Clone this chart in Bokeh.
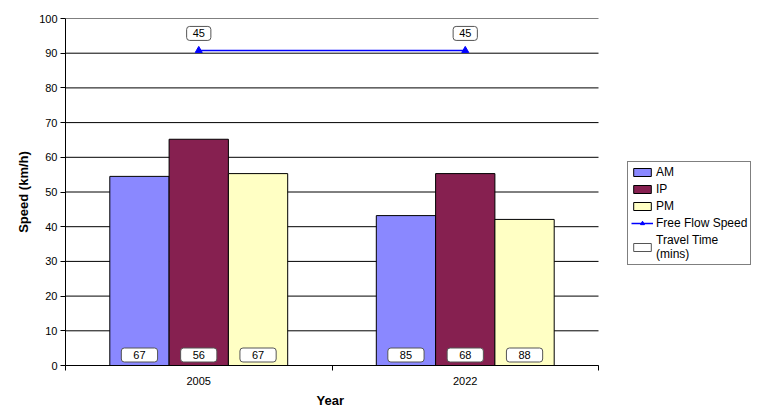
from bokeh.plotting import figure
from bokeh.models import (Range1d, FixedTicker, Legend, LegendItem, ColumnDataSource, Label, Title)
from bokeh.transform import dodge
from bokeh.core.properties import value
from bokeh.embed import file_html
from bokeh.resources import INLINE

years = ["2005", "2022"]
xpos = [0.5, 1.5]
am = [54.5, 43.2]
ip = [65.2, 55.3]
pm = [55.3, 42.1]
ffs = [90.8, 90.8]
am_tt = ["67", "85"]
ip_tt = ["56", "68"]
pm_tt = ["67", "88"]
ffs_tt = ["45", "45"]
yticks = list(range(0, 101, 10))

FONT = "Liberation Sans"
BW = 0.2225

# layout: data area 533 px for 2 categories, frame extends to hold the legend
FRAME_W = 695
FRAME_H = 347
XMAX = 2 * FRAME_W / 533.0

src = ColumnDataSource(dict(x=xpos, am=am, ip=ip, pm=pm, ffs=ffs,
                            am_tt=am_tt, ip_tt=ip_tt, pm_tt=pm_tt, ffs_tt=ffs_tt,
                            zero=[0, 0]))

p = figure(frame_width=FRAME_W, frame_height=FRAME_H, width=760, height=410,
           x_range=Range1d(0, XMAX), y_range=Range1d(0, 100),
           output_backend="svg", toolbar_location=None,
           min_border_left=65, min_border_top=18, min_border_bottom=45, min_border_right=0)
p.outline_line_color = None
p.background_fill_color = "white"
p.xgrid.grid_line_color = None
p.ygrid.grid_line_color = None
p.segment(x0=0, x1=2, y0=yticks, y1=yticks, line_color="black", line_width=1)
p.yaxis.ticker = FixedTicker(ticks=yticks)
p.xaxis.ticker = FixedTicker(ticks=xpos, minor_ticks=[0, 1, 2])
p.xaxis.bounds = (0, 2)
p.xaxis.major_label_overrides = {0.5: years[0], 1.5: years[1]}
p.xaxis.major_tick_line_color = None
p.xaxis.minor_tick_line_color = "black"
p.xaxis.minor_tick_out = 5
p.xaxis.minor_tick_in = 0
p.yaxis.minor_tick_line_color = None
p.yaxis.major_tick_out = 5
p.yaxis.major_tick_in = 0
for ax in (p.xaxis, p.yaxis):
    ax.axis_line_color = "black"
    ax.major_label_text_font = FONT
    ax.major_label_text_font_size = "11px"
    ax.major_label_text_color = "black"
    ax.axis_label_text_font = FONT
    ax.axis_label_text_font_style = "bold"
    ax.axis_label_text_font_size = "13px"
    ax.axis_label_text_color = "black"
p.yaxis.axis_label = "Speed (km/h)"
p.xaxis.major_label_standoff = 5
p.yaxis.major_label_standoff = 3
p.yaxis.axis_label_standoff = 5

# x title centred under the two categories (frame extends further right for the legend)
xtitle = Title(text="Year", align="left", offset=251, standoff=7,
               text_font=FONT, text_font_style="bold", text_font_size="13px",
               text_color="black")
p.add_layout(xtitle, "below")

r_am = p.vbar(x=dodge("x", -BW, range=p.x_range), top="am", width=BW, source=src,
              fill_color="#8A88FF", line_color="black", line_width=1)
r_ip = p.vbar(x="x", top="ip", width=BW, source=src,
              fill_color="#862050", line_color="black", line_width=1)
r_pm = p.vbar(x=dodge("x", BW, range=p.x_range), top="pm", width=BW, source=src,
              fill_color="#FFFFC4", line_color="black", line_width=1)
r_ffl = p.line(x="x", y="ffs", source=src, line_color="#0000FF", line_width=1.5)
r_ffm = p.scatter(x="x", y="ffs", source=src, marker="triangle", size=7,
                  fill_color="#0000FF", line_color="#0000FF")

box_kw = dict(text_font=value(FONT), text_font_size="11px", text_color="black",
              text_align="center", text_baseline="middle",
              background_fill_color="white", border_line_color="#555555",
              border_line_width=1, border_radius=3)
p.text(x="x", y="ffs", text="ffs_tt", source=src, y_offset=-17, padding=[6, 3], **box_kw)
p.text(x=dodge("x", -BW, range=p.x_range), y="zero", text="am_tt", source=src,
       y_offset=-10.5, padding=[12, 3], **box_kw)
p.text(x="x", y="zero", text="ip_tt", source=src, y_offset=-10.5, padding=[12, 3], **box_kw)
p.text(x=dodge("x", BW, range=p.x_range), y="zero", text="pm_tt", source=src,
       y_offset=-10.5, padding=[12, 3], **box_kw)

r_tt = p.rect(x=[float("nan")], y=[float("nan")], width=0.1, height=1,
              fill_color="white", line_color="#555555", line_width=1)

legend = Legend(items=[
    LegendItem(label="AM", renderers=[r_am]),
    LegendItem(label="IP", renderers=[r_ip]),
    LegendItem(label="PM", renderers=[r_pm]),
    LegendItem(label="Free Flow Speed", renderers=[r_ffl, r_ffm]),
    LegendItem(label="Travel Time\n(mins)", renderers=[r_tt]),
], location=(562, 100))
legend.label_text_font = FONT
legend.label_text_font_size = "12px"
legend.label_text_color = "black"
legend.border_line_color = "black"
legend.border_line_width = 1
legend.glyph_width = 22
legend.glyph_height = 10
legend.label_height = 12
legend.label_standoff = 3
legend.spacing = 3
legend.padding = 3
legend.margin = 0
legend.background_fill_color = "white"
legend.background_fill_alpha = 1
legend.level = "annotation"
p.add_layout(legend, "center")

# "123" icon drawn over the travel-time legend swatch (pixel position -> frame coords)
icon_sx, icon_sy = 576, 125
tt_icon = Label(x=icon_sx * XMAX / FRAME_W, y=icon_sy * 100.0 / FRAME_H, text="123",
                text_font=FONT, text_font_size="7px", text_color="black",
                text_align="center", text_baseline="middle")
tt_icon.level = "overlay"
p.add_layout(tt_icon)

open("out.html", "w").write(file_html(p, INLINE))
